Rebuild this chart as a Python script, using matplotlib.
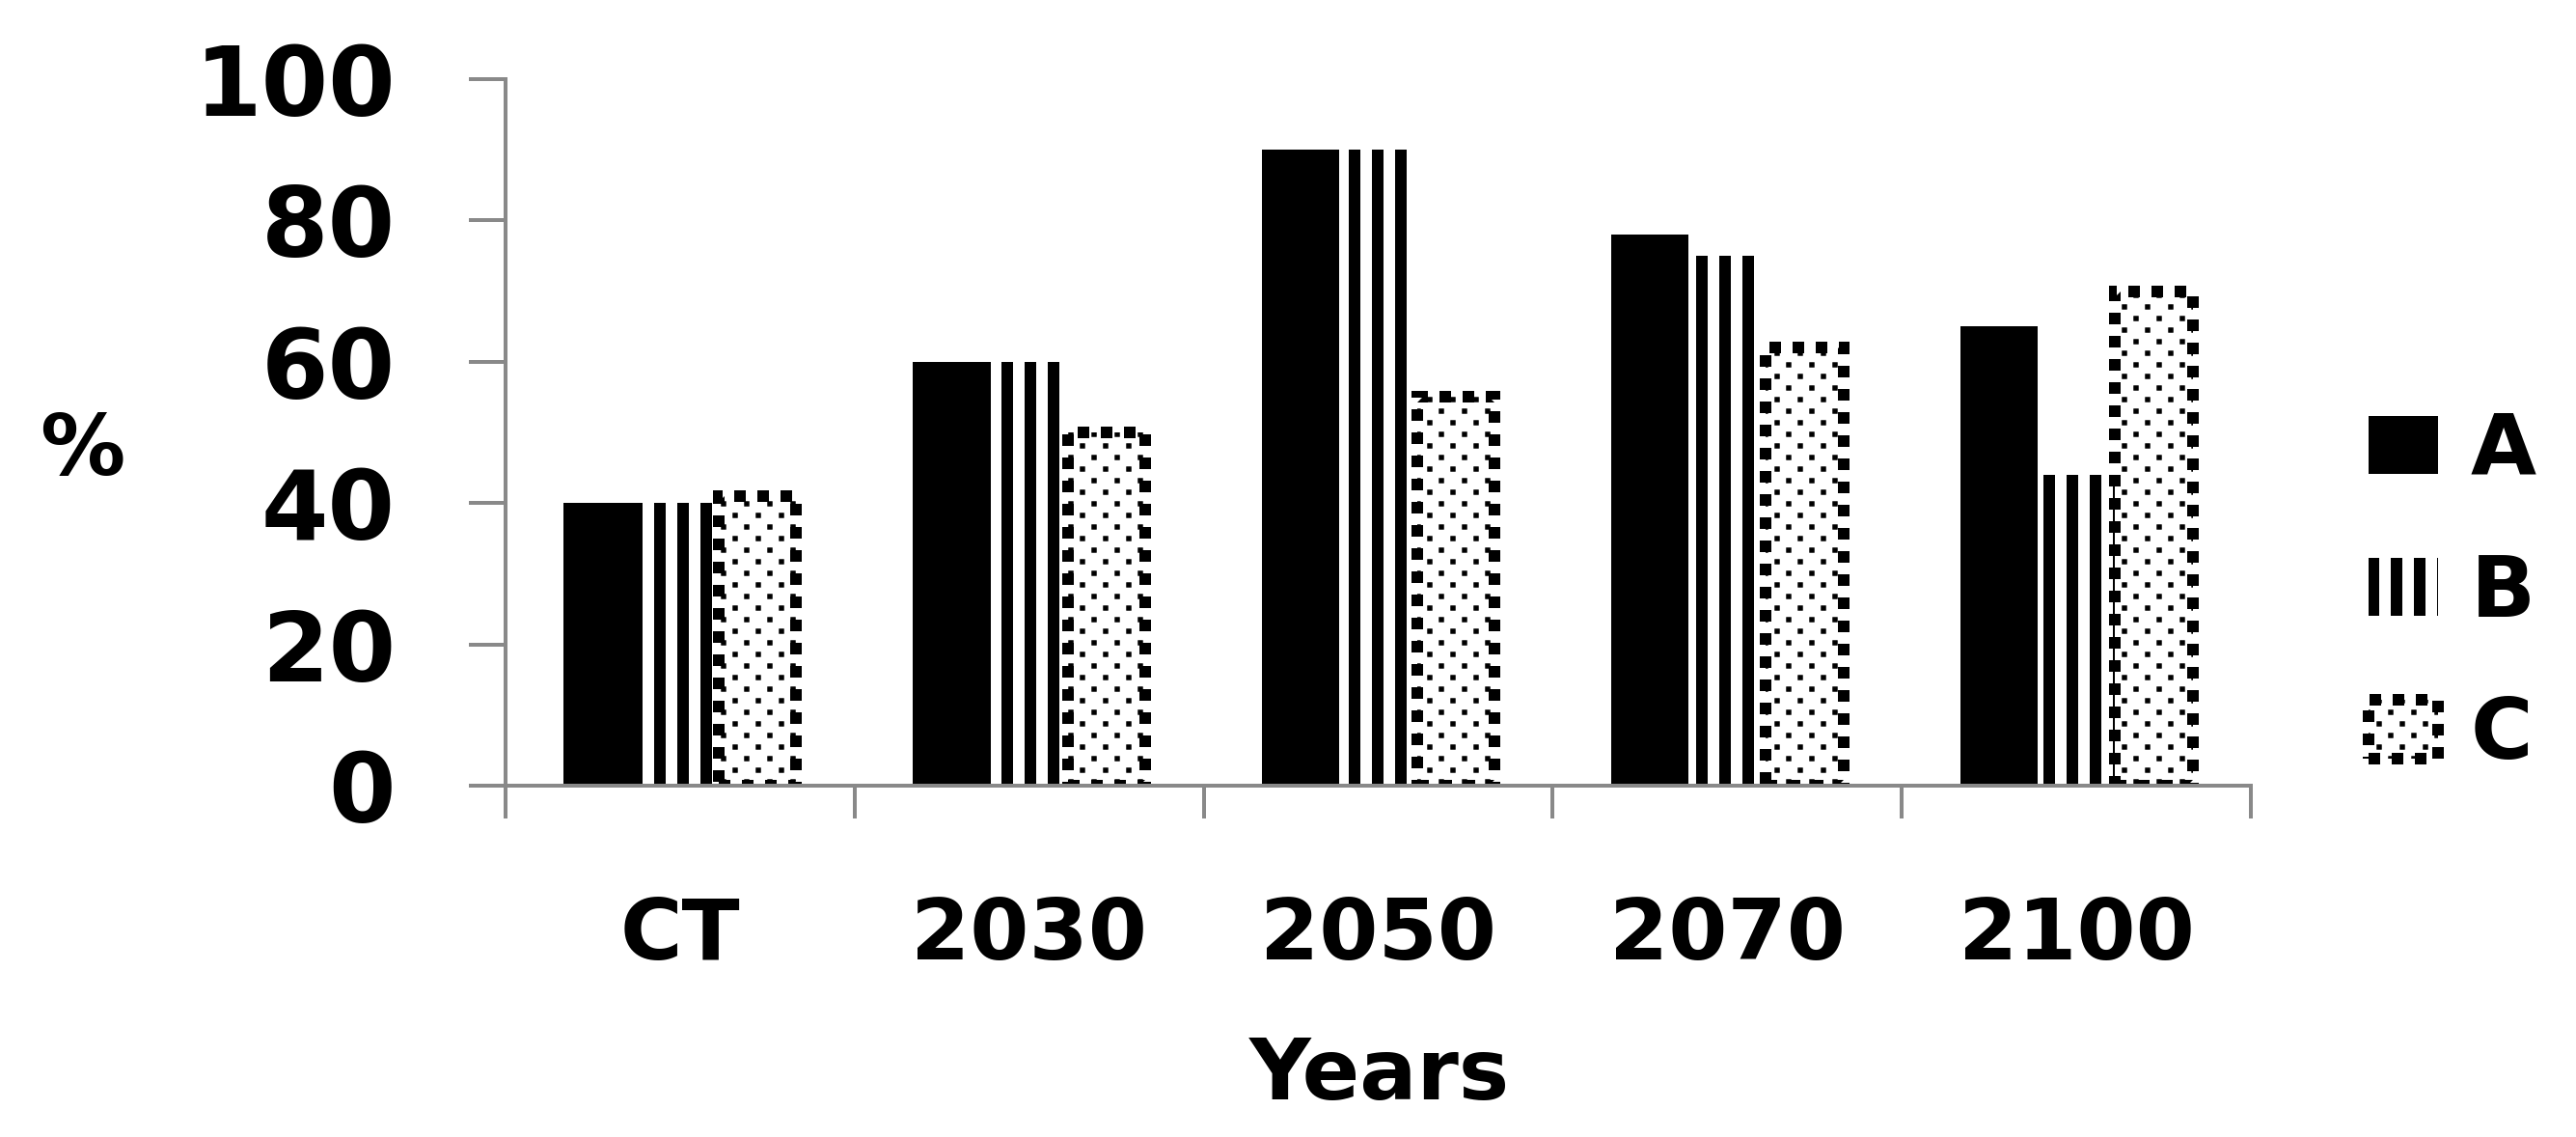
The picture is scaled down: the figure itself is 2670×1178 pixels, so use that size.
import matplotlib
matplotlib.use("Agg")
import matplotlib.pyplot as plt
import matplotlib.hatch as mhatch
from matplotlib.path import Path
import numpy as np

# ---------------- data ----------------
categories = ["CT", "2030", "2050", "2070", "2100"]
series_names = ["A", "B", "C"]
values_a = [40, 60, 90, 78, 65]
values_b = [40, 60, 90, 75, 44]
values_c = [41, 50, 55, 62, 70]
y_ticks = [0, 20, 40, 60, 80, 100]
x_label = "Years"
y_label = "%"


# ------------- custom dot hatch (staggered square dots, replaces '.') -------------
class StaggeredSquareDots(mhatch.HatchPatternBase):
    def __init__(self, hatch, density):
        n = hatch.count(".")
        self.ncols = 6 * n
        self.nrows = 12 * n
        self.num_vertices = self.ncols * self.nrows * 5 if n else 0

    def set_vertices_and_codes(self, vertices, codes):
        h = 0.0165
        k = 0
        for j in range(self.nrows):
            y = (j + 0.5) / self.nrows
            shift = (j % 2) * 0.5 / self.ncols
            for i in range(self.ncols):
                x = (i + 0.25) / self.ncols + shift
                vertices[k:k + 5] = [(x - h, y - h), (x + h, y - h),
                                     (x + h, y + h), (x - h, y + h),
                                     (x - h, y - h)]
                codes[k:k + 5] = [Path.MOVETO, Path.LINETO, Path.LINETO,
                                  Path.LINETO, Path.CLOSEPOLY]
                k += 5


mhatch._hatch_types = [StaggeredSquareDots if t is mhatch.SmallFilledCircles else t
                       for t in mhatch._hatch_types]

# ---------------- figure ----------------
DPI = 144
plt.rcParams["font.family"] = ["DejaVu Sans"]
plt.rcParams["font.weight"] = "bold"

fig = plt.figure(figsize=(2670 / DPI, 1178 / DPI), dpi=DPI)
ax = fig.add_axes([524 / 2670, 364 / 1178, 1809 / 2670, 732 / 1178])

x = np.arange(len(categories))
w = 0.222
B_HATCH_LW = 6.0
C_HATCH_LW = 0.3

plt.rcParams["hatch.linewidth"] = 1.0
bars_a = ax.bar(x - w, values_a, w, color="black", linewidth=0, label=series_names[0])

plt.rcParams["hatch.linewidth"] = B_HATCH_LW
bars_b = ax.bar(x, values_b, w, facecolor="white", edgecolor="black", linewidth=0,
                hatch="|", label=series_names[1])
for p in bars_b:
    if hasattr(p, "set_hatch_linewidth"):
        p.set_hatch_linewidth(B_HATCH_LW)

plt.rcParams["hatch.linewidth"] = C_HATCH_LW
bars_c = ax.bar(x + w, values_c, w, facecolor="white", edgecolor="black", linewidth=6.0,
                linestyle=(0, (1, 1)), hatch=".", label=series_names[2])
for p in bars_c:
    if hasattr(p, "set_hatch_linewidth"):
        p.set_hatch_linewidth(C_HATCH_LW)

# axes styling
axis_gray = "#898989"
ax.set_xlim(-0.5, len(categories) - 0.5)
ax.set_ylim(0, 100)
for s in ["top", "right"]:
    ax.spines[s].set_visible(False)
for s in ["left", "bottom"]:
    ax.spines[s].set_color(axis_gray)
    ax.spines[s].set_linewidth(2.0)

ax.set_yticks(y_ticks)
ax.set_yticklabels([str(v) for v in y_ticks], fontsize=50, fontweight="bold")
ax.tick_params(axis="y", direction="out", length=19, width=2.0, color=axis_gray, pad=38)

ax.set_xticks(np.arange(len(categories) + 1) - 0.5)
ax.set_xticklabels([])
ax.tick_params(axis="x", which="major", direction="out", length=17, width=2.0, color=axis_gray)
ax.set_xticks(x, minor=True)
ax.set_xticklabels(categories, minor=True, fontsize=44, fontweight="bold")
ax.tick_params(axis="x", which="minor", length=0, pad=57)

ax.set_xlabel(x_label, fontsize=44, fontweight="bold")
ax.xaxis.set_label_coords(0.5008, -0.354)
ax.set_ylabel(y_label, fontsize=44, fontweight="bold", rotation=0, va="center", ha="center")
ax.yaxis.set_label_coords(-0.2427, 0.473)

leg = ax.legend(loc="center left", bbox_to_anchor=(2455 / 2670, (1178 - 615) / 1178),
                bbox_transform=fig.transFigure, frameon=False,
                prop={"size": 44, "weight": "bold"},
                handlelength=0.82, handleheight=0.68, handletextpad=0.38,
                labelspacing=0.72, borderpad=0, borderaxespad=0)
handles = getattr(leg, "legend_handles", None) or getattr(leg, "legendHandles", [])
for hnd, lw in zip(handles, [1.0, B_HATCH_LW, C_HATCH_LW]):
    if hasattr(hnd, "set_hatch_linewidth"):
        hnd.set_hatch_linewidth(lw)

fig.savefig("out.png", dpi=DPI)
